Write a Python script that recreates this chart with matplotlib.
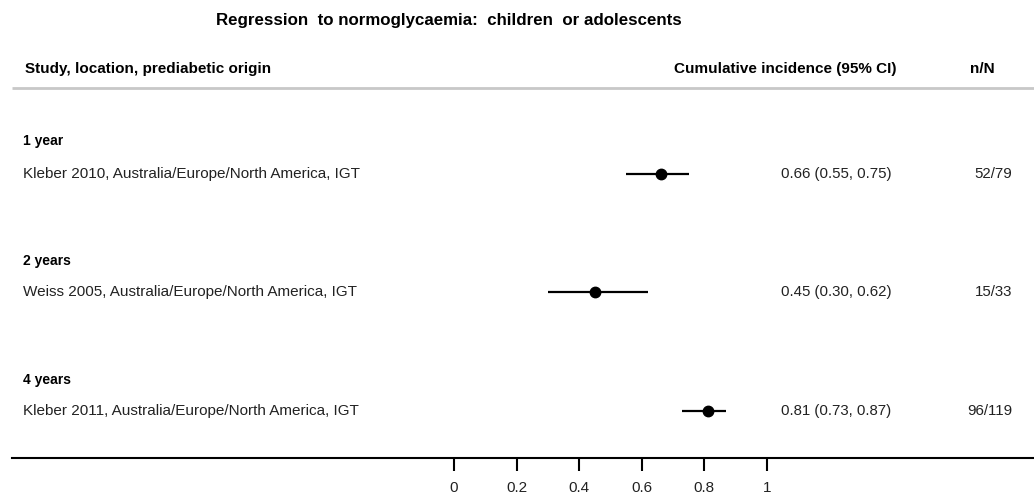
import matplotlib
matplotlib.use("Agg")
import matplotlib.pyplot as plt
from matplotlib.transforms import blended_transform_factory

plt.rcParams['font.family'] = ['Liberation Sans', 'DejaVu Sans']

# Data
groups = ["1 year", "2 years", "4 years"]
studies = [
    "Kleber 2010, Australia/Europe/North America, IGT",
    "Weiss 2005, Australia/Europe/North America, IGT",
    "Kleber 2011, Australia/Europe/North America, IGT",
]
estimates = [0.66, 0.45, 0.81]
lower = [0.55, 0.30, 0.73]
upper = [0.75, 0.62, 0.87]
n_events = [52, 15, 96]
n_total = [79, 33, 119]
x_ticks = [0, 0.2, 0.4, 0.6, 0.8, 1]
x_tick_labels = ["0", "0.2", "0.4", "0.6", "0.8", "1"]

W, H = 1034, 495
fig = plt.figure(figsize=(W / 100, H / 100), dpi=100)

# Axes whose bottom spine is the horizontal scale line
left_px, bottom_px = 12, 458
ax = fig.add_axes([left_px / W, (H - bottom_px) / H, 1 - left_px / W, bottom_px / H])
zero_px, one_px = 454, 767
scale = one_px - zero_px
ax.set_xlim((left_px - zero_px) / scale, (W - zero_px) / scale)
ax.set_ylim(bottom_px, 0)  # rows counted downward from the top

for s in ["top", "right", "left"]:
    ax.spines[s].set_visible(False)
ax.spines["bottom"].set_linewidth(1.5)
ax.set_yticks([])
ax.set_xticks(x_ticks)
ax.set_xticklabels(x_tick_labels, fontsize=11)
ax.tick_params(axis="x", direction="out", length=9.5, width=1.5, pad=7, colors="black",
               labelcolor="#222222")

tf = blended_transform_factory(fig.transFigure, ax.transData)

def fx(px):
    return px / W

# Title and column headers
ax.text(fx(449), 20, "Regression  to normoglycaemia:  children  or adolescents",
        transform=tf, ha="center", va="center", fontsize=12.2, fontweight="bold")
ax.text(fx(25), 69, "Study, location, prediabetic origin", transform=tf,
        ha="left", va="center", fontsize=11, fontweight="bold")
ax.text(fx(896), 69, "Cumulative incidence (95% CI)", transform=tf,
        ha="right", va="center", fontsize=11, fontweight="bold")
ax.text(fx(982), 69, "n/N", transform=tf,
        ha="center", va="center", fontsize=11, fontweight="bold")
ax.plot([fx(12), fx(W)], [88, 88], transform=tf, color="#c8c8c8", lw=2,
        clip_on=False, solid_capstyle="butt")

group_rows = [141, 261, 380]
study_rows = [174, 292, 411]

for g, gy in zip(groups, group_rows):
    ax.text(fx(23), gy, g, transform=tf, ha="left", va="center",
            fontsize=10, fontweight="bold")

for name, y, est, lo, hi, ne, nt in zip(studies, study_rows, estimates, lower,
                                        upper, n_events, n_total):
    ax.text(fx(23), y, name, transform=tf, ha="left", va="center", fontsize=11,
            color="#222222")
    ax.plot([lo, hi], [y, y], color="black", lw=1.6, solid_capstyle="butt")
    ax.plot([est], [y], "o", color="black", markersize=7.5)
    ax.text(fx(781), y, f"{est:.2f} ({lo:.2f}, {hi:.2f})", transform=tf,
            ha="left", va="center", fontsize=10.8, color="#222222")
    ax.text(fx(1012), y, f"{ne}/{nt}", transform=tf, ha="right", va="center",
            fontsize=10.8, color="#222222")

fig.savefig("out.png", dpi=100, facecolor="white")
